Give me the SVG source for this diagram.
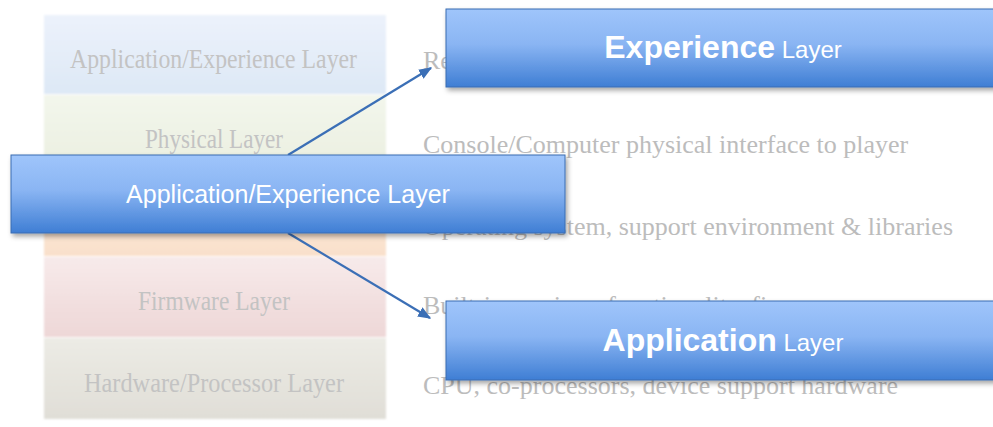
<svg xmlns="http://www.w3.org/2000/svg" width="993" height="427" viewBox="0 0 993 427">
  <defs>
    <linearGradient id="blueFill" x1="0" y1="0" x2="0" y2="1">
      <stop offset="0" stop-color="#9fc5fb"/>
      <stop offset="0.45" stop-color="#8ab5f3"/>
      <stop offset="1" stop-color="#3f7ed4"/>
    </linearGradient>
    <linearGradient id="gApp" x1="0" y1="0" x2="0" y2="1">
      <stop offset="0" stop-color="#ecf2fb"/>
      <stop offset="1" stop-color="#dde8f6"/>
    </linearGradient>
    <linearGradient id="gPhys" x1="0" y1="0" x2="0" y2="1">
      <stop offset="0" stop-color="#f3f6ec"/>
      <stop offset="1" stop-color="#eaefdf"/>
    </linearGradient>
    <linearGradient id="gOs" x1="0" y1="0" x2="0" y2="1">
      <stop offset="0" stop-color="#fdecde"/>
      <stop offset="1" stop-color="#f9e0cb"/>
    </linearGradient>
    <linearGradient id="gFirm" x1="0" y1="0" x2="0" y2="1">
      <stop offset="0" stop-color="#f7eaea"/>
      <stop offset="1" stop-color="#eed7d7"/>
    </linearGradient>
    <linearGradient id="gHw" x1="0" y1="0" x2="0" y2="1">
      <stop offset="0" stop-color="#ecebe5"/>
      <stop offset="1" stop-color="#e0ded7"/>
    </linearGradient>
    <filter id="shadow" x="-10%" y="-20%" width="120%" height="150%">
      <feDropShadow dx="2" dy="3" stdDeviation="2.5" flood-color="#000" flood-opacity="0.35"/>
    </filter>
    <filter id="soft" x="-5%" y="-5%" width="110%" height="110%">
      <feGaussianBlur stdDeviation="0.8"/>
    </filter>
    <marker id="arrow" viewBox="0 0 10 10" refX="9" refY="5" markerWidth="6" markerHeight="6" orient="auto" markerUnits="strokeWidth">
      <path d="M0,1 L10,5 L0,9 Z" fill="#3b6fb6"/>
    </marker>
  </defs>
  <style>
    .layerLabel { font-family: "Liberation Serif", "DejaVu Serif", serif; font-size: 27px; fill: #c3c3c3; }
    .desc { font-family: "Liberation Serif", "DejaVu Serif", serif; font-size: 26px; fill: #bcbcbc; }
    .box { fill: url(#blueFill); stroke: #3a6cb2; stroke-width: 1; filter: url(#shadow); }
    .boxText { font-family: "Liberation Sans", Arial, sans-serif; fill: #ffffff; text-anchor: middle; }
    .big { font-weight: bold; font-size: 32px; }
    .small { font-size: 24px; }
    .link { stroke: #3b6fb6; stroke-width: 2.2; fill: none; marker-end: url(#arrow); }
  </style>

  <rect width="993" height="427" fill="#ffffff"/>

  <!-- layered stack on the left -->
  <g id="stack" filter="url(#soft)">
    <rect x="44" y="15" width="342" height="79" fill="url(#gApp)"/>
    <rect x="44" y="95" width="342" height="79" fill="url(#gPhys)"/>
    <rect x="44" y="175" width="342" height="81" fill="url(#gOs)"/>
    <rect x="44" y="257" width="342" height="80" fill="url(#gFirm)"/>
    <rect x="44" y="338" width="342" height="81" fill="url(#gHw)"/>
  </g>
  <g id="stack-labels">
    <text class="layerLabel" x="70" y="68" textLength="287" lengthAdjust="spacingAndGlyphs">Application/Experience Layer</text>
    <text class="layerLabel" x="145" y="148" textLength="138" lengthAdjust="spacingAndGlyphs">Physical Layer</text>
    <text class="layerLabel" x="138" y="310" textLength="152" lengthAdjust="spacingAndGlyphs">Firmware Layer</text>
    <text class="layerLabel" x="84" y="392" textLength="260" lengthAdjust="spacingAndGlyphs">Hardware/Processor Layer</text>
  </g>

  <!-- descriptions to the right of the stack -->
  <g id="descriptions">
    <text class="desc" x="423" y="69">Re</text>
    <text class="desc" x="423" y="153">Console/Computer physical interface to player</text>
    <text class="desc" x="423" y="235">Operating system, support environment &amp; libraries</text>
    <text class="desc" x="423" y="314">Built-in services, functionality, firmware</text>
    <text class="desc" x="423" y="394">CPU, co-processors, device support hardware</text>
  </g>

  <!-- connectors -->
  <g id="connectors">
    <line class="link" x1="288" y1="155" x2="431" y2="68"/>
    <line class="link" x1="288" y1="233" x2="430" y2="318"/>
  </g>

  <g id="experience-layer">
    <rect class="box" x="446" y="9" width="560" height="78"/>
    <text class="boxText" x="723" y="58"><tspan class="big">Experience</tspan><tspan class="small"> Layer</tspan></text>
  </g>

  <g id="application-experience-layer">
    <rect class="box" x="11" y="155" width="554" height="78"/>
    <text class="boxText" x="288" y="203" font-size="25">Application/Experience Layer</text>
  </g>

  <g id="application-layer">
    <rect class="box" x="446" y="301" width="560" height="79"/>
    <text class="boxText" x="723" y="351"><tspan class="big">Application</tspan><tspan class="small"> Layer</tspan></text>
  </g>
</svg>
